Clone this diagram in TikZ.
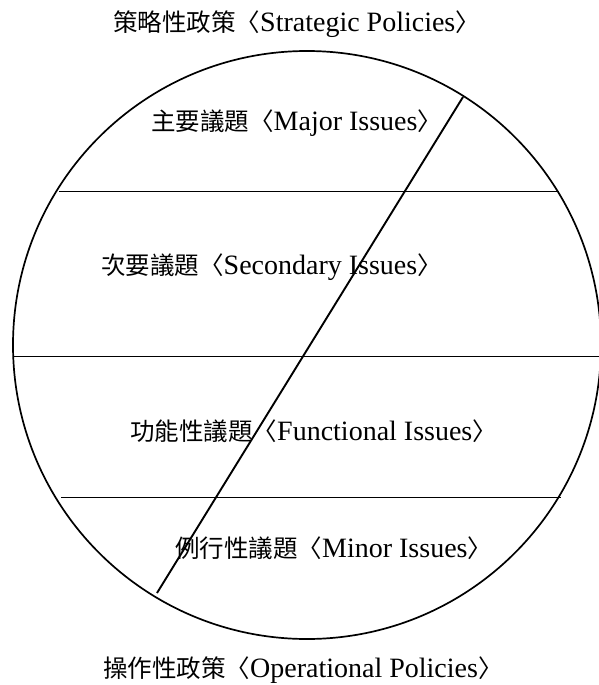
\documentclass[tikz,border=0pt]{standalone}
\usepackage{fontspec}
\setmainfont{Liberation Serif}
\newfontfamily\cjk{Noto Sans CJK TC}
\newcommand{\cjkpart}[1]{{\cjk\fontsize{24.5}{28}\selectfont #1}}
\newcommand{\latpart}[1]{{\fontsize{28}{32}\selectfont #1}}
\newcommand{\lab}[2]{\cjkpart{#1〈}\latpart{#2}\cjkpart{〉}}
\tikzset{
  rim/.style={line width=1.7pt},
  band/.style={line width=1.9pt},
  lab/.style={inner sep=0pt, anchor=west}
}
\begin{document}
\begin{tikzpicture}[x=1pt,y=-1pt]
\useasboundingbox (0,0) rectangle (599,685);
% outer circle
\node[draw, rim, circle, minimum size=588pt, inner sep=0pt] (ring) at (307,345) {};
% horizontal divisions
\coordinate (a1) at (59,191.5);
\coordinate (a2) at (559,191.5);
\coordinate (b1) at (13,356.5);
\coordinate (b2) at (600,356.5);
\coordinate (c1) at (61,497.5);
\coordinate (c2) at (561,497.5);
\draw[band] (a1) -- (a2);
\draw[band] (b1) -- (b2);
\draw[band] (c1) -- (c2);
% diagonal
\coordinate (d1) at (463,97);
\coordinate (d2) at (157,593);
\draw[band] (d1) -- (d2);
% labels
\node[lab] (strat) at (113,24) {\lab{策略性政策}{Strategic Policies}};
\node[lab] (major) at (151,123) {\lab{主要議題}{Major Issues}};
\node[lab] (second) at (101,267) {\lab{次要議題}{Secondary Issues}};
\node[lab] (func) at (130,431) {\lab{功能性議題}{Functional Issues}};
\node[lab] (minor) at (175,548) {\lab{例行性議題}{Minor Issues}};
\node[lab] (oper) at (103,670) {\lab{操作性政策}{Operational Policies}};
\end{tikzpicture}
\end{document}
